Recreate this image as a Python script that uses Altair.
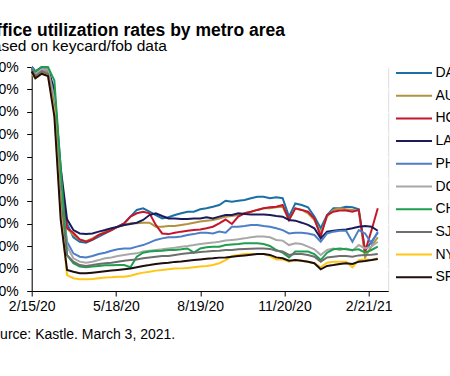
import altair as alt
import pandas as pd

# ---------------- data ----------------
metros = ["DAL", "AUS", "HOU", "LA", "PHI", "DC", "CHI", "SJ", "NYC", "SF"]
colors = ["#1A6FA6", "#B3923F", "#C4172C", "#1B1B5A", "#4D7FC6",
          "#A8A8A8", "#1E9E4E", "#6E6E6E", "#FFC617", "#1E0E0E"]

dates = ["2020-02-15"] + [d.strftime("%Y-%m-%d") for d in
                          pd.date_range("2020-02-19", periods=55, freq="7D")]

DAL = [100, 98, 99, 99, 88, 50, 30,
       24, 22, 21.6, 22.8, 24.3, 25.7, 27.2, 28.7, 30.2, 33.2, 36.2, 36.9, 35.4, 33.9, 32.4, 32.9, 33.9, 34.7, 35.4, 35.4, 36.5, 36.9,
       37.6, 38.4, 40.3, 39.9, 40.3, 40.6, 41.4, 42.1, 42.1, 41.4, 41.8, 41.4, 33.2, 39.1, 38.4, 37.4, 33.2, 28, 33.9, 36.9, 36.9, 37.6, 37.4, 36.5, 18, 22, 26]
AUS = [98, 96, 98, 98, 86, 48, 28,
       25, 22.8, 22.3, 23.5, 25, 26.5, 27.5, 28.7, 29.5, 30.2, 30.2, 30.5, 30.5, 28.7, 28.7, 29, 29, 29.5, 29.9, 30.5, 31, 31.4,
       31.7, 32.4, 33.2, 33.5, 33.9, 34.7, 35.4, 36.2, 36.9, 36.9, 37.4, 37.6, 31.7, 36.9, 36.2, 34.7, 31.7, 25.7, 33.2, 36.2, 36.9, 36.5, 36.2, 35.9, 15, 20, 24]
HOU = [99, 97, 99, 99, 88, 50, 28,
       26, 23, 22, 23, 25, 26, 27.2, 28.7, 30.2, 33.2, 34.7, 35.4, 34.7, 29.5, 25.7, 25.4, 26, 26.5, 26.9, 27.2, 27.5, 28,
       28.7, 30.2, 31.9, 29.9, 33.2, 34.7, 35.4, 36.2, 36.9, 37.4, 37.6, 38.4, 31.7, 36.9, 36.2, 35.4, 32.4, 24.3, 33.9, 35.4, 35.9, 35.9, 35.4, 36.2, 17.6, 27, 36.9]
LA = [100, 98, 100, 99, 90, 55, 32,
      27.2, 25.7, 25.4, 25.7, 26.5, 27.2, 28, 28.7, 29.5, 29.9, 30.5, 31.7, 33.9, 34.7, 33.5, 32.4, 32.4, 32.1, 32.1, 32.4, 32.4, 32.9,
      32.4, 33.2, 33.9, 33.9, 34.7, 34.4, 34.2, 34.2, 34.2, 33.9, 33.5, 33.2, 31.7, 31.4, 30.5, 29.5, 28, 23.5, 26.5, 26.9, 27.2, 27.5, 28, 28.7, 29, 28.7, 26.9]
PHI = [100, 98, 99, 99, 86, 45, 22,
       16.8, 15.3, 15, 15.6, 16.5, 17.1, 18, 18.6, 19, 19, 19.8, 20.5, 21.6, 22.8, 23.5, 24, 24, 24.3, 25, 25.4, 26, 26,
       25.7, 26.5, 26, 28.7, 28.7, 29, 29.5, 29.5, 29, 28.7, 28, 27.2, 25.7, 26, 26, 25.7, 25, 22, 25.7, 26.5, 26.9, 26.9, 22, 27.2, 25.7, 21.3, 26.5]
DC = [99, 97, 99, 99, 85, 45, 20,
      14.6, 13.1, 12.6, 13.1, 13.8, 14.6, 15, 15.6, 16.1, 16.5, 16.8, 17.6, 18, 18.3, 18.6, 19, 19.3, 19.8, 20.1, 20.5, 21, 21.3,
      21.6, 22, 22.5, 22.8, 23.1, 23.5, 24, 24.3, 24.3, 24, 22.8, 22.5, 20.5, 21.3, 21, 19.8, 18.6, 16.1, 18.3, 19, 18.3, 19, 18, 20.5, 19, 19.8, 22]
CHI = [99, 98, 100, 100, 94, 55, 16,
       12.4, 10.9, 10.6, 10.9, 11.2, 11.5, 11.5, 11.6, 11.6, 10.6, 15.3, 17.1, 17.6, 17.9, 18, 18.3, 18.3, 18.6, 19, 17.1, 19, 19.5,
       19.8, 19.8, 20.5, 20.8, 21, 21.3, 21.3, 21.3, 21, 20.1, 18.3, 17.1, 15, 17.6, 17.6, 17.6, 16.5, 13.8, 17.1, 18.6, 19, 18.6, 18.3, 18.6, 17.1, 18.3, 19.8]
SJ = [99, 96, 98, 97, 82, 40, 16,
      13.1, 11.6, 11.2, 11.6, 12.1, 12.4, 12.6, 13.1, 13.5, 13.8, 14.1, 14.6, 15, 15.3, 15.6, 15.6, 16.1, 16.5, 16.8, 17.1, 17.4, 17.6,
      17.9, 18, 18.3, 18.3, 18.6, 18.8, 18.9, 19, 19, 18.8, 18, 17.6, 16.1, 16.5, 16.5, 16.1, 15.3, 13.1, 15, 15.3, 15.6, 15.6, 15.3, 15.9, 16.1, 16.2, 16.5]
NYC = [97, 95, 97, 96, 80, 35, 7.1,
       5.7, 5.2, 5.2, 5.4, 5.7, 6, 6.1, 6.4, 6.4, 6.8, 7.6, 8.2, 8.6, 9.1, 9.4, 9.7, 10, 10.1, 10.3, 10.6, 10.9, 11.2,
       11.6, 12.4, 13.8, 15.6, 16.1, 16.5, 16.5, 16.5, 16.5, 15.6, 14.1, 14.1, 13.1, 13.8, 13.5, 13.1, 12.4, 10.6, 12.6, 13.1, 13.1, 13.1, 10.6, 13.8, 14.1, 13.8, 14.6]
SF = [98, 95, 97, 96, 78, 32, 9.4,
      8.6, 7.9, 7.9, 8.2, 8.5, 8.8, 9.1, 9.4, 9.7, 10, 10.6, 11.2, 11.6, 12.1, 12.4, 12.6, 13, 13.2, 13.5, 13.8, 14.1, 14.4,
      14.6, 14.9, 15, 15.3, 15.6, 15.9, 16.2, 16.5, 16.5, 16.1, 15, 14.6, 13.5, 13.8, 13.5, 13.1, 12.4, 9.7, 11.2, 11.6, 12.1, 12.4, 12.1, 13.1, 13.4, 13.8, 14.3]

series = {"DAL": DAL, "AUS": AUS, "HOU": HOU, "LA": LA, "PHI": PHI,
          "DC": DC, "CHI": CHI, "SJ": SJ, "NYC": NYC, "SF": SF}

tick_dates = [(2020, 2, 15), (2020, 5, 18), (2020, 8, 19), (2020, 11, 20), (2021, 2, 21)]
y_ticks = [0, 10, 20, 30, 40, 50, 60, 70, 80, 90, 100]

rows = []
for m in metros:
    for d, v in zip(dates, series[m]):
        rows.append({"date": d, "metro": m, "value": v, "ord": metros.index(m)})
df = pd.DataFrame(rows)

FONT = "Liberation Sans"
PX_LEFT = -49.2  # left edge of texts relative to plot (cropped like the reference)

chart = alt.Chart(df).mark_line(strokeWidth=2).encode(
    x=alt.X("date:T",
            scale=alt.Scale(type="utc",
                            domain=[alt.DateTime(year=2020, month=2, date=15, utc=True),
                                    alt.DateTime(year=2021, month=3, date=14, hours=12, utc=True)]),
            axis=alt.Axis(values=[alt.DateTime(year=y, month=mo, date=dd, utc=True) for y, mo, dd in tick_dates],
                          labelExpr="utcFormat(datum.value, '%-m/%-d/%y')",
                          grid=False, domainColor="#000000", tickColor="#000000",
                          tickSize=5, labelFontSize=14, labelColor="#000000", labelPadding=3,
                          labelFont=FONT, labelFlush=False,
                          title="Source: Kastle. March 3, 2021.",
                          titleX=PX_LEFT, titleY=47, titleAlign="left", titleAnchor="start",
                          titleBaseline="alphabetic", titleFontSize=14, titleFontWeight="normal",
                          titleFont=FONT, titleColor="#000000")),
    y=alt.Y("value:Q", scale=alt.Scale(domain=[0, 100], nice=False),
            axis=alt.Axis(values=y_ticks, labelExpr="datum.value + '%'",
                          title=None, grid=True, gridColor="#FFFFFF", gridWidth=1.5,
                          domainColor="#000000", tickColor="#000000", tickSize=5,
                          labelPadding=8.4, labelFontSize=14, labelColor="#000000",
                          labelFont=FONT)),
    color=alt.Color("metro:N", scale=alt.Scale(domain=metros, range=colors),
                    legend=alt.Legend(orient="none", legendX=372.3, legendY=-4,
                                      title=None, symbolType="M-2,0H2", symbolSize=324,
                                      symbolStrokeWidth=2, symbolFillColor="transparent",
                                      labelFontSize=14, labelFont=FONT,
                                      labelColor="#000000", labelOffset=11.5, rowPadding=5.7,
                                      padding=0)),
    order=alt.Order("ord:Q"),
).properties(
    width=356.5, height=224,
    padding={"left": 31.7, "top": 67, "right": 61.8, "bottom": 85},
    autosize=alt.AutoSizeParams(type="none"),
    title=alt.TitleParams(text="Office utilization rates by metro area",
                          subtitle="Based on keycard/fob data",
                          anchor="start", frame="group", dx=PX_LEFT, offset=5.5,
                          font=FONT, fontSize=17.5, fontWeight="bold", color="#000000",
                          subtitleFont=FONT, subtitleFontSize=15.5, subtitleColor="#000000",
                          subtitlePadding=0),
).configure_view(fill="#E7EEF4", stroke=None).configure(background="#FFFFFF")

chart.save("out.html", embed_options={"renderer": "svg", "actions": False})
